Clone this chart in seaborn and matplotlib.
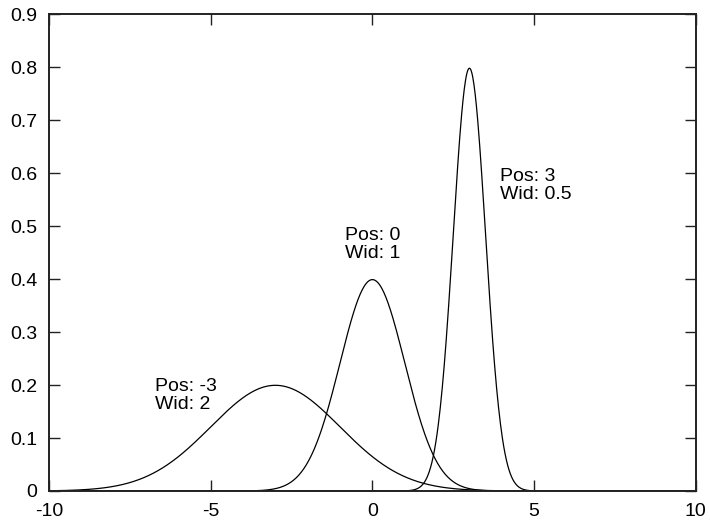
import numpy as np
import matplotlib
matplotlib.use("Agg")
import matplotlib.pyplot as plt
import seaborn as sns
import pandas as pd

# peak parameters (position and width of each gaussian)
positions = [-3, 0, 3]
widths = [2, 1, 0.5]
labels = ["Pos: -3\nWid: 2", "Pos: 0\nWid: 1", "Pos: 3\nWid: 0.5"]
label_x = [-6.72, -0.85, 3.95]
label_y = [0.214, 0.499, 0.610]

x_ticks = [-10, -5, 0, 5, 10]
y_ticks = [0, 0.1, 0.2, 0.3, 0.4, 0.5, 0.6, 0.7, 0.8, 0.9]

sns.set_style("ticks")
plt.rcParams['font.family'] = ['Liberation Sans', 'DejaVu Sans']

xs = np.linspace(-10, 10, 1001)
frames = []
for p, w in zip(positions, widths):
    y = np.exp(-0.5 * ((xs - p) / w) ** 2) / (w * np.sqrt(2 * np.pi))
    frames.append(pd.DataFrame({"x": xs, "y": y, "curve": f"{p}_{w}"}))
df = pd.concat(frames)

fig = plt.figure(figsize=(7.1, 5.22), dpi=100)
ax = fig.add_axes([0.069, 0.0594, 0.911, 0.9136])
sns.lineplot(data=df, x="x", y="y", units="curve", estimator=None,
             color="black", linewidth=0.9, ax=ax, legend=False)

for t, lx, ly in zip(labels, label_x, label_y):
    ax.text(lx, ly, t, ha="left", va="top", fontsize=14, linespacing=1.12,
            color="black")

ax.set_xlim(-10, 10)
ax.set_ylim(0, 0.9)
ax.set_xticks(x_ticks)
ax.set_yticks(y_ticks)
ax.set_xticklabels([str(v) for v in x_ticks])
ax.set_yticklabels(["0" if v == 0 else f"{v:.1f}" for v in y_ticks])
ax.set_xlabel("")
ax.set_ylabel("")
ax.tick_params(direction="in", length=8, width=1, top=True, right=True,
               labelsize=14, pad=8.5, color="#222222", labelcolor="black")
for s in ax.spines.values():
    s.set_linewidth(1.4)
    s.set_color("#222222")

fig.savefig("out.png", dpi=100)
